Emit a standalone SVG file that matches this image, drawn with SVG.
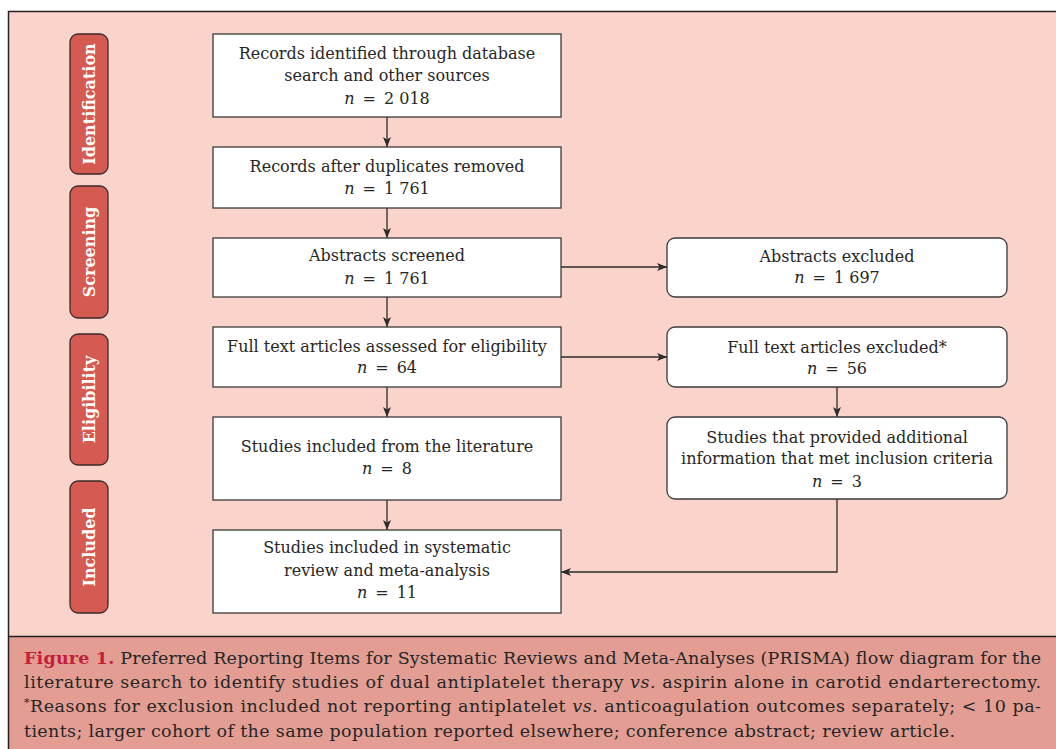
<svg xmlns="http://www.w3.org/2000/svg" width="1056" height="749" viewBox="0 0 1056 749">
<style>
.bg{fill:#FAD3CA}
.cap{fill:#E39D93}
.box{fill:#ffffff;stroke:#3a3a3a;stroke-width:1.3}
.lab{fill:#D45A52;stroke:#3a2a2a;stroke-width:1.3}
.t{font-family:"DejaVu Serif","Liberation Serif",serif;font-size:16px;fill:#262626;text-anchor:middle}
.lt{font-family:"DejaVu Serif","Liberation Serif",serif;font-size:16px;font-weight:bold;fill:#ffffff;text-anchor:middle}
.c{font-family:"DejaVu Serif","Liberation Serif",serif;font-size:17.5px;fill:#262626}
.i{font-style:italic}
.ln{fill:none;stroke:#2b2b2b;stroke-width:1.3}
</style>
<defs>
<marker id="ah" viewBox="0 0 10 8" refX="10" refY="4" markerWidth="10" markerHeight="8" markerUnits="userSpaceOnUse" orient="auto">
<path d="M0,0 L10,4 L0,8 L2.5,4 Z" fill="#2b2b2b"/>
</marker>
</defs>
<rect x="0" y="0" width="1056" height="749" fill="#ffffff"/>
<rect class="bg" x="8.5" y="11.5" width="1050" height="625"/>
<rect class="cap" x="8.5" y="636.5" width="1050" height="115"/>
<path d="M8.5,749 V11.5 H1056" fill="none" stroke="#222" stroke-width="1.5"/>
<line x1="8.5" y1="636.5" x2="1056" y2="636.5" stroke="#222" stroke-width="1.5"/>

<g id="label-identification"><rect class="lab" x="70" y="34" width="38" height="140" rx="8"/><text class="lt" transform="translate(95,104) rotate(-90)">Identification</text></g>
<g id="label-screening"><rect class="lab" x="70" y="186" width="38" height="132" rx="8"/><text class="lt" transform="translate(95,252) rotate(-90)">Screening</text></g>
<g id="label-eligibility"><rect class="lab" x="70" y="334" width="38" height="131" rx="8"/><text class="lt" transform="translate(95,399.5) rotate(-90)">Eligibility</text></g>
<g id="label-included"><rect class="lab" x="70" y="481" width="38" height="132" rx="8"/><text class="lt" transform="translate(95,547) rotate(-90)">Included</text></g>

<g id="connectors">
<line class="ln" x1="387" y1="117" x2="387" y2="147" marker-end="url(#ah)"/>
<line class="ln" x1="387" y1="208" x2="387" y2="238" marker-end="url(#ah)"/>
<line class="ln" x1="387" y1="297" x2="387" y2="327" marker-end="url(#ah)"/>
<line class="ln" x1="387" y1="387" x2="387" y2="417" marker-end="url(#ah)"/>
<line class="ln" x1="387" y1="500" x2="387" y2="530" marker-end="url(#ah)"/>
<line class="ln" x1="561" y1="267" x2="667" y2="267" marker-end="url(#ah)"/>
<line class="ln" x1="561" y1="357" x2="667" y2="357" marker-end="url(#ah)"/>
<line class="ln" x1="837" y1="387" x2="837" y2="417" marker-end="url(#ah)"/>
<path class="ln" d="M837,499 V572 H561" marker-end="url(#ah)"/>
</g>

<g id="n1"><rect class="box" x="213" y="34" width="348" height="83"/>
<text class="t" x="387" y="59">Records identified through database</text>
<text class="t" x="387" y="81">search and other sources</text>
<text class="t" x="387" y="104"><tspan class="i">n</tspan>&#8194;=&#8194;2 018</text></g>

<g id="n2"><rect class="box" x="213" y="147" width="348" height="61"/>
<text class="t" x="387" y="172">Records after duplicates removed</text>
<text class="t" x="387" y="194"><tspan class="i">n</tspan>&#8194;=&#8194;1 761</text></g>

<g id="n3"><rect class="box" x="213" y="238" width="348" height="59"/>
<text class="t" x="387" y="261">Abstracts screened</text>
<text class="t" x="387" y="284"><tspan class="i">n</tspan>&#8194;=&#8194;1 761</text></g>

<g id="n4"><rect class="box" x="213" y="327" width="348" height="60"/>
<text class="t" x="387" y="352">Full text articles assessed  for eligibility</text>
<text class="t" x="387" y="373"><tspan class="i">n</tspan>&#8194;=&#8194;64</text></g>

<g id="n5"><rect class="box" x="213" y="417" width="348" height="83"/>
<text class="t" x="387" y="452">Studies included from the literature</text>
<text class="t" x="387" y="474"><tspan class="i">n</tspan>&#8194;=&#8194;8</text></g>

<g id="n6"><rect class="box" x="213" y="530" width="348" height="83"/>
<text class="t" x="387" y="553">Studies included in systematic</text>
<text class="t" x="387" y="576">review and meta-analysis</text>
<text class="t" x="387" y="598"><tspan class="i">n</tspan>&#8194;=&#8194;11</text></g>

<g id="r1"><rect class="box" x="667" y="238" width="340" height="59" rx="8"/>
<text class="t" x="837" y="262">Abstracts excluded</text>
<text class="t" x="837" y="283"><tspan class="i">n</tspan>&#8194;=&#8194;1 697</text></g>

<g id="r2"><rect class="box" x="667" y="327" width="340" height="60" rx="8"/>
<text class="t" x="837" y="353">Full text articles excluded*</text>
<text class="t" x="837" y="374"><tspan class="i">n</tspan>&#8194;=&#8194;56</text></g>

<g id="r3"><rect class="box" x="667" y="417" width="340" height="82" rx="8"/>
<text class="t" x="837" y="443">Studies that provided additional</text>
<text class="t" x="837" y="464">information that met inclusion criteria</text>
<text class="t" x="837" y="487"><tspan class="i">n</tspan>&#8194;=&#8194;3</text></g>

<g id="caption">
<text class="c" x="24" y="664" textLength="1017" lengthAdjust="spacing"><tspan font-weight="bold" fill="#C41E3A">Figure 1.</tspan> Preferred Reporting Items for Systematic Reviews and Meta-Analyses (PRISMA) flow diagram for the</text>
<text class="c" x="24" y="688" textLength="1017" lengthAdjust="spacing">literature search to identify studies of dual antiplatelet therapy <tspan class="i">vs.</tspan> aspirin alone in carotid endarterectomy.</text>
<text class="c" x="24" y="712" textLength="1017" lengthAdjust="spacing"><tspan font-size="11" dy="-6">*</tspan><tspan dy="6">Reasons for exclusion included not reporting antiplatelet </tspan><tspan class="i">vs.</tspan> anticoagulation outcomes separately; &lt; 10 pa-</text>
<text class="c" x="24" y="737" textLength="931" lengthAdjust="spacing">tients; larger cohort of the same population reported elsewhere; conference abstract; review article.</text>
</g>
</svg>
